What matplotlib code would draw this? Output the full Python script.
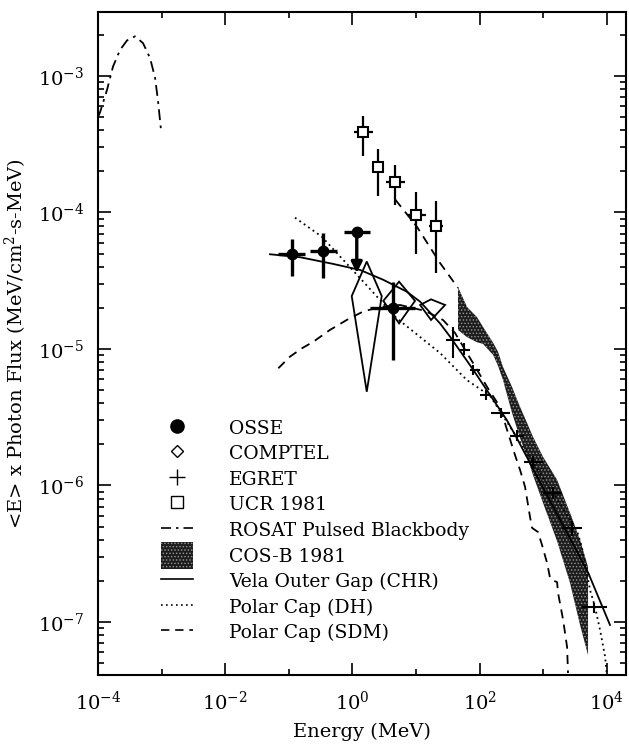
import numpy as np
import matplotlib
matplotlib.use('Agg')
from matplotlib import pyplot as plt
from matplotlib.lines import Line2D
from matplotlib.patches import Patch, Polygon, Rectangle
from matplotlib.legend_handler import HandlerPatch
from matplotlib.ticker import NullFormatter

plt.rcParams['font.family'] = ['DejaVu Serif']
plt.rcParams['mathtext.fontset'] = 'dejavuserif'
plt.rcParams['hatch.linewidth'] = 0.7

# ---- data (energy in MeV, flux in MeV/cm2-s-MeV) ----
# OSSE (filled circles)
osse_e = [0.111, 0.348, 4.31]
osse_elo = [0.068, 0.215, 1.89]
osse_ehi = [0.18, 0.58, 9.64]
osse_f = [4.94e-5, 5.2e-5, 1.99e-5]
osse_flo = [3.43e-5, 3.30e-5, 8.30e-6]
osse_fhi = [6.37e-5, 7.11e-5, 3.10e-5]
# OSSE upper limit point
osse_ul_e = [1.17]
osse_ul_elo = [0.733]
osse_ul_ehi = [1.91]
osse_ul_f = [7.2e-5]
osse_ul_to = [3.6e-5]

# COMPTEL diamonds: centre, energy range, flux range
comptel_e = [1.68, 5.41, 17.2]
comptel_elo = [0.975, 3.06, 11.6]
comptel_ehi = [2.89, 9.64, 28.6]
comptel_f = [2.44e-5, 2.25e-5, 2.10e-5]
comptel_flo = [4.86e-6, 1.54e-5, 1.63e-5]
comptel_fhi = [4.37e-5, 3.11e-5, 2.31e-5]

# EGRET
egret_e = [38.7, 57, 80, 125, 215, 385, 700, 1400, 2800, 6300]
egret_elo = [30, 50, 70, 100, 150, 300, 500, 1000, 2000, 4000]
egret_ehi = [50, 70, 100, 150, 300, 500, 1000, 2000, 4000, 10000]
egret_f = [1.16e-5, 9.84e-6, 7.02e-6, 4.60e-6, 3.40e-6, 2.31e-6, 1.49e-6, 8.81e-7, 4.89e-7, 1.29e-7]
egret_flo = [8.55e-6, 9.04e-6, 6.5e-6, 4.2e-6, 3.1e-6, 2.1e-6, 1.35e-6, 7.9e-7, 4.3e-7, 1.16e-7]
egret_fhi = [1.46e-5, 1.11e-5, 7.6e-6, 5.0e-6, 3.7e-6, 2.55e-6, 1.65e-6, 9.8e-7, 5.5e-7, 1.38e-7]

# UCR 1981 (open squares)
ucr_e = [1.49, 2.55, 4.73, 10.1, 20.6]
ucr_elo = [1.06, 2.55, 3.37, 7.29, 15.8]
ucr_ehi = [2.08, 2.55, 6.79, 14.4, 26.3]
ucr_f = [3.87e-4, 2.14e-4, 1.67e-4, 9.6e-5, 7.96e-5]
ucr_flo = [2.59e-4, 1.33e-4, 1.13e-4, 4.97e-5, 3.59e-5]
ucr_fhi = [5.09e-4, 2.90e-4, 2.23e-4, 1.42e-4, 1.21e-4]

# ROSAT pulsed blackbody
rosat_e = [1.0e-4, 1.07e-4, 1.39e-4, 1.72e-4, 2.22e-4, 2.86e-4, 3.82e-4, 5.1e-4, 6.58e-4, 7.87e-4, 8.77e-4, 9.8e-4]
rosat_f = [5.0e-4, 5.37e-4, 7.94e-4, 1.17e-3, 1.55e-3, 1.82e-3, 1.95e-3, 1.74e-3, 1.35e-3, 9.77e-4, 6.61e-4, 3.98e-4]

# COS-B 1981 band
cosb_e = [45.7, 63.4, 91.0, 113, 163, 195, 233, 323, 432, 556, 691, 993, 1650, 2640, 3790, 5060]
cosb_fhi = [2.84e-5, 2.03e-5, 1.71e-5, 1.45e-5, 1.11e-5, 9.51e-6, 7.38e-6, 5.27e-6, 3.76e-6,
            2.87e-6, 2.27e-6, 1.62e-6, 1.10e-6, 6.29e-7, 3.99e-7, 2.53e-7]
cosb_flo = [1.38e-5, 1.22e-5, 1.12e-5, 1.09e-5, 9.04e-6, 7.50e-6, 5.93e-6, 3.40e-6, 2.23e-6,
            1.62e-6, 1.19e-6, 7.45e-7, 3.92e-7, 1.93e-7, 9.51e-8, 5.73e-8]

# Vela outer gap (CHR)
chr_e = [0.0506, 0.150, 0.495, 1.32, 3.06, 7.14, 11.6, 23.8, 34.3, 79.6, 146, 267, 383, 5120, 11200]
chr_f = [4.94e-5, 4.70e-5, 4.20e-5, 3.79e-5, 3.21e-5, 2.63e-5, 2.22e-5, 1.54e-5, 1.23e-5,
         7.02e-6, 4.60e-6, 3.02e-6, 2.23e-6, 2.28e-7, 9.51e-8]

# Polar cap (DH)
dh_e = [0.125, 0.329, 1.32, 4.97, 23.8, 62.7, 146, 3370, 4030, 5450, 6520, 7820, 9380, 9950]
dh_f = [9.16e-5, 6.65e-5, 3.30e-5, 1.68e-5, 9.35e-6, 5.93e-6, 4.53e-6, 4.72e-7, 3.56e-7,
        1.71e-7, 1.29e-7, 8.73e-8, 5.57e-8, 4.21e-8]

# Polar cap (SDM)
sdm_e = [0.0684, 0.1045, 0.160, 0.243, 0.445, 0.813, 1.47, 2.72, 5.60, 13.9, 26.6, 41.0, 78.7,
         131, 209, 270, 360, 432, 518, 620, 667, 828, 957, 1150, 1280, 1370, 1650, 1710, 2050, 2370, 2450]
sdm_f = [7.22e-6, 8.79e-6, 1.01e-5, 1.13e-5, 1.38e-5, 1.63e-5, 1.88e-5, 2.03e-5, 2.10e-5, 1.90e-5,
         1.63e-5, 1.31e-5, 7.89e-6, 5.27e-6, 3.76e-6, 2.55e-6, 1.67e-6, 1.30e-6, 9.75e-7, 5.87e-7,
         4.89e-7, 4.56e-7, 3.66e-7, 2.70e-7, 2.10e-7, 2.03e-7, 1.96e-7, 1.63e-7, 1.04e-7, 6.56e-8, 4.23e-8]
# dashed segment through the UCR points
sdm2_e = [4.73, 10.3, 23.8, 45.7]
sdm2_f = [1.24e-4, 7.87e-5, 4.27e-5, 2.80e-5]

xticks_major = [1e-4, 1e-2, 1e0, 1e2, 1e4]
xticks_minor = [1e-3, 1e-1, 1e1, 1e3]
yticks_major = [1e-7, 1e-6, 1e-5, 1e-4, 1e-3]

DASH = (0, (5, 3.5))
DOT = (0, (1, 2))
DASHDOT = (0, (6, 3, 1.5, 3))
COSB_FACE = '#1c1c1c'
COSB_HATCH = '#8c8c8c'


def tall_patch(legend, orig_handle, xdescent, ydescent, width, height, fontsize):
    # COS-B swatch in the legend is nearly a full row tall
    return Rectangle((-xdescent, -ydescent - 0.2 * height), width, 1.4 * height)


fig = plt.figure(figsize=(6.29, 7.44), dpi=100)
ax = fig.add_axes([98 / 629, 69 / 744, 528 / 629, 663 / 744])
ax.set_xscale('log')
ax.set_yscale('log')

# COS-B band
ax.fill_between(cosb_e, cosb_flo, cosb_fhi, facecolor=COSB_FACE, edgecolor=COSB_HATCH,
                hatch='.....', linewidth=0, zorder=1)

# model curves
ax.plot(rosat_e, rosat_f, color='k', lw=1.3, ls=DASHDOT, zorder=2)
ax.plot(chr_e, chr_f, color='k', lw=1.3, zorder=2)
ax.plot(dh_e, dh_f, color='k', lw=1.3, ls=DOT, zorder=2)
ax.plot(sdm_e, sdm_f, color='k', lw=1.3, ls=DASH, zorder=2)
ax.plot(sdm2_e, sdm2_f, color='k', lw=1.3, ls=DASH, zorder=2)

# COMPTEL diamonds
for e, elo, ehi, f, flo, fhi in zip(comptel_e, comptel_elo, comptel_ehi,
                                    comptel_f, comptel_flo, comptel_fhi):
    pts = [(elo, f), (e, fhi), (ehi, f), (e, flo)]
    ax.add_patch(Polygon(pts, closed=True, fill=False, edgecolor='k', lw=1.3, zorder=3))

# EGRET
ax.errorbar(egret_e, egret_f,
            xerr=[np.array(egret_e) - np.array(egret_elo), np.array(egret_ehi) - np.array(egret_e)],
            yerr=[np.array(egret_f) - np.array(egret_flo), np.array(egret_fhi) - np.array(egret_f)],
            fmt='none', ecolor='k', elinewidth=1.5, capsize=0, zorder=3)

# UCR
ax.errorbar(ucr_e, ucr_f,
            xerr=[np.array(ucr_e) - np.array(ucr_elo), np.array(ucr_ehi) - np.array(ucr_e)],
            yerr=[np.array(ucr_f) - np.array(ucr_flo), np.array(ucr_fhi) - np.array(ucr_f)],
            fmt='s', ms=6.5, mfc='white', mec='k', mew=1.5, ecolor='k', elinewidth=1.6,
            capsize=0, zorder=4)

# OSSE
ax.errorbar(osse_e, osse_f,
            xerr=[np.array(osse_e) - np.array(osse_elo), np.array(osse_ehi) - np.array(osse_e)],
            yerr=[np.array(osse_f) - np.array(osse_flo), np.array(osse_fhi) - np.array(osse_f)],
            fmt='o', ms=7.5, mfc='k', mec='k', ecolor='k', elinewidth=2.4, capsize=0, zorder=4)
ax.errorbar(osse_ul_e, osse_ul_f,
            xerr=[np.array(osse_ul_e) - np.array(osse_ul_elo), np.array(osse_ul_ehi) - np.array(osse_ul_e)],
            fmt='o', ms=7.5, mfc='k', mec='k', ecolor='k', elinewidth=2.4, capsize=0, zorder=4)
for e, f, to in zip(osse_ul_e, osse_ul_f, osse_ul_to):
    ax.annotate('', xy=(e, to), xytext=(e, f),
                arrowprops=dict(arrowstyle='-|>', color='k', lw=2.4, mutation_scale=16,
                                shrinkA=0, shrinkB=0), zorder=4)

ax.set_xlim(1e-4, 2.0e4)
ax.set_ylim(4.09e-8, 2.94e-3)

ax.set_xticks(xticks_major)
ax.set_xticks(xticks_minor, minor=True)
ax.xaxis.set_minor_formatter(NullFormatter())
ax.set_yticks(yticks_major)
ax.yaxis.set_minor_locator(matplotlib.ticker.LogLocator(base=10, subs=np.arange(2, 10), numticks=20))
ax.yaxis.set_minor_formatter(NullFormatter())

ax.tick_params(which='both', direction='in', top=True, right=True, width=1.2, labelsize=14)
ax.tick_params(which='major', length=9)
ax.tick_params(which='minor', length=4.5)
ax.tick_params(axis='x', which='major', pad=11)
ax.tick_params(axis='y', which='major', pad=10)
for s in ax.spines.values():
    s.set_linewidth(1.5)

ax.set_xlabel('Energy (MeV)', fontsize=14, labelpad=7)
ax.set_ylabel(r'<E> x Photon Flux (MeV/cm$^2$-s-MeV)', fontsize=14, labelpad=6)

cosb_handle = Patch(facecolor=COSB_FACE, edgecolor=COSB_HATCH, hatch='.....', linewidth=0)
handles = [
    Line2D([], [], ls='none', marker='o', ms=9.5, mfc='k', mec='k'),
    Line2D([], [], ls='none', marker='D', ms=6, mfc='white', mec='k', mew=1.0),
    Line2D([], [], ls='none', marker='+', ms=11, mec='k', mew=1.0),
    Line2D([], [], ls='none', marker='s', ms=8, mfc='white', mec='k', mew=1.0),
    Line2D([], [], color='k', lw=1.2, ls=DASHDOT),
    cosb_handle,
    Line2D([], [], color='k', lw=1.2),
    Line2D([], [], color='k', lw=1.2, ls=DOT),
    Line2D([], [], color='k', lw=1.2, ls=DASH),
]
labels = ['OSSE', 'COMPTEL', 'EGRET', 'UCR 1981', 'ROSAT Pulsed Blackbody', 'COS-B 1981',
          'Vela Outer Gap (CHR)', 'Polar Cap (DH)', 'Polar Cap (SDM)']
ax.legend(handles, labels, loc='upper left', bbox_to_anchor=(0.1193, 0.388), frameon=False,
          fontsize=13.5, borderpad=0, borderaxespad=0, handlelength=1.7, handleheight=1.2,
          handletextpad=1.95, labelspacing=0.3,
          handler_map={cosb_handle: HandlerPatch(patch_func=tall_patch)})

fig.savefig('out.png', dpi=100)
